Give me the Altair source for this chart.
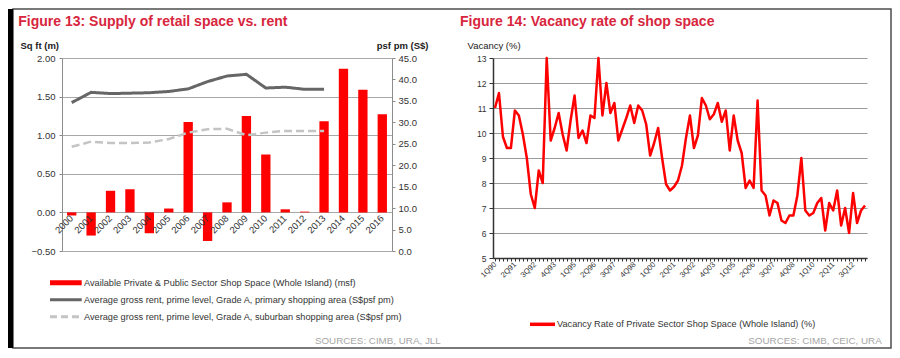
import json
import altair as alt
import pandas as pd

FONT = "Liberation Sans"
TITLE_RED = "#d7263d"
TXT = "#333333"

# ---------------- Figure 13 data ----------------
title_left = "Figure 13: Supply of retail space vs. rent"
years = [str(y) for y in range(2000, 2017)]
supply_msf = [-0.04, -0.30, 0.28, 0.30, -0.27, 0.05, 1.17, -0.37, 0.13, 1.25,
              0.75, 0.04, 0.01, 1.18, 1.86, 1.59, 1.27]
rent_years = [str(y) for y in range(2000, 2014)]
rent_primary = [34.6, 37.0, 36.7, 36.8, 36.9, 37.2, 37.8, 39.5, 40.8, 41.2,
                38.0, 38.2, 37.7, 37.7]
rent_suburban = [24.3, 25.5, 25.2, 25.2, 25.3, 26.1, 27.6, 28.4, 28.5, 27.0,
                 27.6, 28.0, 28.0, 28.0]
series_names = [
    "Available Private & Public Sector Shop Space (Whole Island) (msf)",
    "Average gross rent, prime level, Grade A, primary shopping area (S$psf pm)",
    "Average gross rent, prime level, Grade A, suburban shopping area (S$psf pm)",
]
series_colors = ["#ff0000", "#666666", "#c4c4c4"]
left_ticks = [-0.5, 0.0, 0.5, 1.0, 1.5, 2.0]
rent_ticks = [0, 5, 10, 15, 20, 25, 30, 35, 40, 45]
source_left = "SOURCES: CIMB, URA, JLL"

# ---------------- Figure 14 data ----------------
title_right = "Figure 14: Vacancy rate of shop space"
quarters = [f"{i % 4 + 1}Q{(1990 + i // 4) % 100:02d}" for i in range(94)]
vacancy = [11.0, 11.6, 9.85, 9.4, 9.4, 10.9, 10.7, 9.95, 9.0, 7.55,
           7.0, 8.5, 8.0, 13.0, 9.7, 10.2, 10.8, 9.95, 9.3, 10.5,
           11.5, 9.8, 10.1, 9.6, 10.7, 10.6, 13.0, 10.7, 12.0, 10.8,
           11.2, 9.7, 10.15, 10.6, 11.1, 10.4, 11.1, 10.9, 10.35, 9.1,
           9.6, 10.2, 9.0, 7.95, 7.7, 7.85, 8.1, 8.7, 9.8, 10.7,
           9.4, 9.9, 11.4, 11.1, 10.55, 10.75, 11.2, 10.45, 10.9, 9.3,
           10.7, 9.7, 9.2, 7.8, 8.1, 7.8, 11.3, 7.7, 7.5, 6.7,
           7.3, 7.2, 6.5, 6.4, 6.7, 6.7, 7.5, 9.0, 6.9, 6.7,
           6.8, 7.2, 7.4, 6.1, 7.2, 6.9, 7.7, 6.3, 7.0, 6.0,
           7.6, 6.4, 6.9, 7.1]
shown_quarters = quarters[::5]
vac_ticks = list(range(5, 14))
vac_label = "Vacancy Rate of Private Sector Shop Space (Whole Island) (%)"
source_right = "SOURCES: CIMB, CEIC, URA"

# ---------------- frames ----------------
W1, H1 = 330, 193
W2, H2 = 374, 200
one = pd.DataFrame({"k": [0]})

frame = alt.Chart(one).mark_rect(fillOpacity=0, stroke="#4d4d4d", strokeWidth=1.5).encode(
    x=alt.value(-49), x2=alt.value(829), y=alt.value(-49), y2=alt.value(290))
blackbar = alt.Chart(one).mark_rect(color="#000000").encode(
    x=alt.value(-54), x2=alt.value(-49), y=alt.value(-49), y2=alt.value(290))

# ---------------- left chart ----------------
df_bar = pd.DataFrame({"year": years, "supply": supply_msf})
df_rent = pd.DataFrame({
    "year": rent_years * 2,
    "series": [series_names[1]] * len(rent_years) + [series_names[2]] * len(rent_years),
    "rent": rent_primary + rent_suburban,
})

x_year = alt.X(
    "year:O", sort=years,
    scale=alt.Scale(paddingInner=0.52, paddingOuter=0.26),
    axis=alt.Axis(title=None, labelAngle=-45, labelAlign="right", labelBaseline="middle",
                  labelFontSize=9.5, labelColor=TXT, domain=False, ticks=False,
                  offset=-38.6, labelPadding=4, grid=False, zindex=1, labelOverlap=False),
)

bars = alt.Chart(df_bar).mark_bar(color="#ff0000").encode(
    x=x_year,
    y=alt.Y("supply:Q", scale=alt.Scale(domain=[-0.5, 2.0], nice=False, zero=False),
            axis=alt.Axis(values=left_ticks, format=".2f", title="Sq ft (m)",
                          titleAngle=0, titleAlign="left", titleBaseline="alphabetic",
                          titleX=-42, titleY=-10, titleFontSize=9.5, titleFontWeight="bold",
                          titleColor="#222222", grid=True, gridColor="#a8a8a8",
                          domainColor="#8c8c8c", tickColor="#8c8c8c", tickSize=3,
                          labelFontSize=9.5, labelColor=TXT, labelPadding=4)),
)

color_enc = alt.Color("series:N", scale=alt.Scale(domain=series_names, range=series_colors),
                      legend=None)
is_sub = alt.datum.series == series_names[2]
is_bar = alt.datum.series == series_names[0]

lines = alt.Chart(df_rent).mark_line(strokeCap="butt").encode(
    x=x_year,
    y=alt.Y("rent:Q", scale=alt.Scale(domain=[0, 45], nice=False),
            axis=alt.Axis(orient="right", values=rent_ticks, format=".1f", title="psf pm (S$)",
                          titleAngle=0, titleAlign="right", titleBaseline="alphabetic",
                          titleX=36, titleY=-10, titleFontSize=9.5, titleFontWeight="bold",
                          titleColor="#222222", grid=False, domainColor="#8c8c8c",
                          tickColor="#8c8c8c", tickSize=3, labelFontSize=9.5,
                          labelColor=TXT, labelPadding=3)),
    color=color_enc,
    detail="series:N",
    strokeDash=alt.condition(is_sub, alt.value([8, 4]), alt.value([1, 0])),
    strokeWidth=alt.condition(is_sub, alt.value(2.5), alt.value(3)),
)

df_leg = pd.DataFrame({"series": series_names})
leg_y = alt.Y("series:N", sort=series_names,
              scale=alt.Scale(type="point", range=[224.7, 258.7], padding=0), axis=None)
leg_rule = alt.Chart(df_leg).mark_rule(strokeCap="butt").encode(
    y=leg_y, x=alt.value(-12), x2=alt.value(19.7), color=color_enc,
    strokeDash=alt.condition(is_sub, alt.value([7, 4]), alt.value([1, 0])),
    strokeWidth=alt.condition(is_bar, alt.value(5), alt.value(3)),
)
leg_text = alt.Chart(df_leg).mark_text(align="left", baseline="middle", fontSize=9.2,
                                       color=TXT).encode(
    y=leg_y, x=alt.value(22), text="series:N")

title1 = alt.Chart(pd.DataFrame({"t": [title_left]})).mark_text(
    align="left", baseline="alphabetic", fontSize=14, fontWeight="bold", color=TITLE_RED
).encode(x=alt.value(-43.7), y=alt.value(-32), text="t:N")

src1 = alt.Chart(pd.DataFrame({"s": [source_left]})).mark_text(
    align="right", baseline="alphabetic", fontSize=9.8, color="#a6a6a6"
).encode(x=alt.value(378.7), y=alt.value(285.5), text="s:N")

left = alt.layer(frame, blackbar, bars, lines, leg_rule, leg_text, title1, src1).resolve_scale(
    y="independent").properties(width=W1, height=H1)

# ---------------- right chart ----------------
df_vac = pd.DataFrame({"quarter": quarters, "vacancy": vacancy})
label_expr = f"indexof({json.dumps(shown_quarters)}, datum.value) >= 0 ? datum.value : ''"

vac_line = alt.Chart(df_vac).mark_line(color="#ff0000", strokeWidth=2.5, strokeJoin="round").encode(
    x=alt.X("quarter:O", sort=quarters, scale=alt.Scale(type="point", padding=0.5),
            axis=alt.Axis(title=None, labelExpr=label_expr, labelAngle=-45, labelAlign="right",
                          labelBaseline="middle", labelFontSize=7.6, labelColor=TXT,
                          tickSize=3, tickColor="#333333", domainColor="#333333",
                          domainWidth=1.5, labelPadding=2, labelOverlap=False, grid=False)),
    y=alt.Y("vacancy:Q", scale=alt.Scale(domain=[5, 13], nice=False, zero=False),
            axis=alt.Axis(values=vac_ticks, format="d", title="Vacancy (%)",
                          titleAngle=0, titleAlign="left", titleBaseline="alphabetic",
                          titleX=-26, titleY=-10, titleFontSize=9.5, titleFontWeight="normal",
                          titleColor="#222222", grid=True, gridColor="#9a9a9a",
                          domainColor="#333333", domainWidth=1.5, tickColor="#333333",
                          tickSize=4, labelFontSize=8.5, labelColor=TXT, labelPadding=3)),
)

title2 = alt.Chart(pd.DataFrame({"t": [title_right]})).mark_text(
    align="left", baseline="alphabetic", fontSize=14, fontWeight="bold", color=TITLE_RED
).encode(x=alt.value(-33), y=alt.value(-32), text="t:N")

df_leg2 = pd.DataFrame({"series": [vac_label]})
leg2_rule = alt.Chart(df_leg2).mark_rule(color="#ff0000", strokeWidth=3.5, strokeCap="butt").encode(
    x=alt.value(37), x2=alt.value(62), y=alt.value(266.3))
leg2_text = alt.Chart(df_leg2).mark_text(align="left", baseline="middle", fontSize=9.2,
                                         color=TXT).encode(
    x=alt.value(64), y=alt.value(266.3), text="series:N")

src2 = alt.Chart(pd.DataFrame({"s": [source_right]})).mark_text(
    align="right", baseline="alphabetic", fontSize=9.8, color="#a6a6a6"
).encode(x=alt.value(388.7), y=alt.value(285.5), text="s:N")

right = alt.layer(vac_line, title2, leg2_rule, leg2_text, src2).properties(width=W2, height=H2)

chart = alt.hconcat(left, right, spacing=101, bounds="flush").properties(
    padding=0).configure(font=FONT).configure_view(strokeWidth=0)

chart.save("out.html", embed_options={"renderer": "svg", "actions": False})
